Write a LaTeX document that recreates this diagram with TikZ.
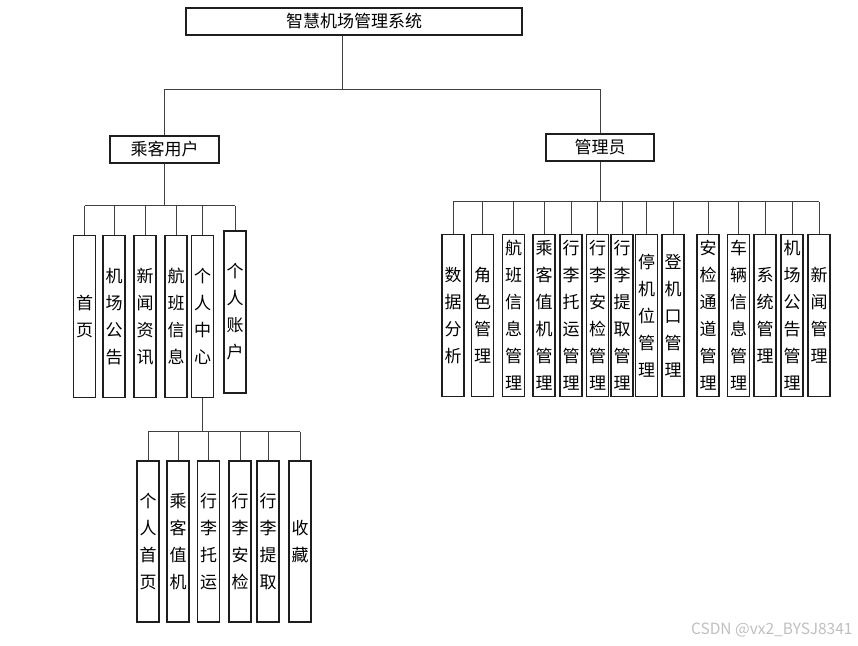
\documentclass[tikz,border=0pt]{standalone}
\usepackage{fontspec}
\setmainfont{Noto Sans CJK SC}
\usepackage{tikz}
\usetikzlibrary{positioning}
\definecolor{ink}{RGB}{30,30,30}
\tikzset{
  head/.style={draw=ink,line width=1.3pt,fill=white,minimum height=27pt,inner sep=0pt,
    font=\fontsize{17}{18}\selectfont},
  leaf/.style={draw=ink,line width=1.3pt,fill=white,minimum width=22pt,minimum height=162pt,
    inner sep=0pt,align=center,font=\fontsize{17}{27}\selectfont},
  wire/.style={draw=ink!85,line width=0.9pt},
}
\begin{document}
\begin{tikzpicture}[x=1pt,y=-1pt]
  \useasboundingbox (0,0) rectangle (858,645);
  % top levels
  \node[head,minimum width=336pt] (root) at (354,21.5) {智慧机场管理系统};
  \node[head,minimum width=109pt] (user) at (164.5,149.5) {乘客用户};
  \node[head,minimum width=108pt] (admin) at (600,147.5) {管理员};
  \coordinate (rbus) at (342,89);
  \coordinate (ubus) at (0,205.5);
  \coordinate (abus) at (0,201.5);
  \coordinate (cbus) at (0,431.5);
  \draw[wire] (rbus |- root.south) -- (rbus);
  \draw[wire] (user.north) -- (user |- rbus) -- (admin |- rbus) -- (admin.north);
  % passenger side
  \foreach \n/\x/\y/\t in {p1/84.5/316.5/{首\\页}, p2/114/316.5/{机\\场\\公\\告},
      p3/145/316.5/{新\\闻\\资\\讯}, p4/176/316.5/{航\\班\\信\\息},
      p5/202.5/316.5/{个\\人\\中\\心}, p6/235/312/{个\\人\\账\\户}}
    \node[leaf] (\n) at (\x,\y) {\t};
  \draw[wire] (user.south) -- (user |- ubus);
  \draw[wire] (p1 |- ubus) -- (p6 |- ubus);
  \foreach \n in {p1,p2,p3,p4,p5,p6} \draw[wire] (\n |- ubus) -- (\n.north);
  % personal center
  \foreach \n/\x/\t in {q1/148/{个\\人\\首\\页}, q2/178/{乘\\客\\值\\机},
      q3/208.5/{行\\李\\托\\运}, q4/240/{行\\李\\安\\检},
      q5/268/{行\\李\\提\\取}, q6/300/{收\\藏}}
    \node[leaf,minimum height=161pt] (\n) at (\x,541.5) {\t};
  \draw[wire] (p5.south) -- (p5 |- cbus);
  \draw[wire] (q1 |- cbus) -- (q6 |- cbus);
  \foreach \n in {q1,q2,q3,q4,q5,q6} \draw[wire] (\n |- cbus) -- (\n.north);
  % admin side
  \foreach \n/\x/\t in {a1/453/{数\\据\\分\\析}, a2/482.5/{角\\色\\管\\理},
      a3/513.5/{航\\班\\信\\息\\管\\理}, a4/544/{乘\\客\\值\\机\\管\\理},
      a5/571/{行\\李\\托\\运\\管\\理}, a6/597.5/{行\\李\\安\\检\\管\\理},
      a7/622/{行\\李\\提\\取\\管\\理}, a8/646.5/{停\\机\\位\\管\\理},
      a9/673/{登\\机\\口\\管\\理}, a10/708/{安\\检\\通\\道\\管\\理},
      a11/738.5/{车\\辆\\信\\息\\管\\理}, a12/765/{系\\统\\管\\理},
      a13/792/{机\\场\\公\\告\\管\\理}, a14/819/{新\\闻\\管\\理}}
    \node[leaf] (\n) at (\x,315.5) {\t};
  \draw[wire] (admin.south) -- (admin |- abus);
  \draw[wire] (a1 |- abus) -- (a14 |- abus);
  \foreach \n in {a1,a2,a3,a4,a5,a6,a7,a8,a9,a10,a11,a12,a13,a14}
    \draw[wire] (\n |- abus) -- (\n.north);
  \node[text=gray!50,font=\fontsize{15.5}{17}\selectfont,anchor=east] (mark) at (856,630) {CSDN @vx2\_BYSJ8341};
\end{tikzpicture}
\end{document}
